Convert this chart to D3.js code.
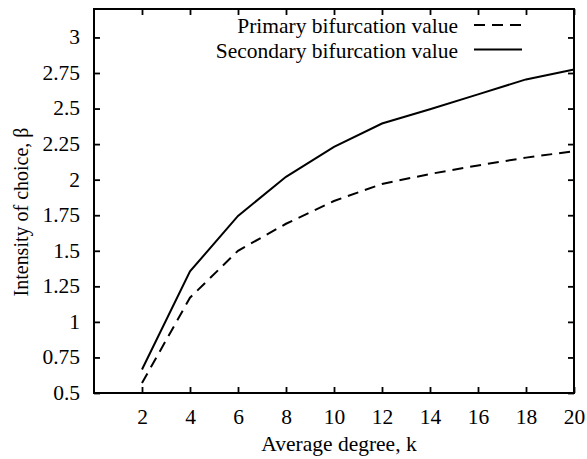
<!DOCTYPE html>
<html>
<head>
<meta charset="utf-8">
<script src="https://cdn.jsdelivr.net/npm/d3@7"></script>
<style>
  html, body { margin: 0; padding: 0; background: #fff; }
  svg { display: block; }
  text { font-family: "Liberation Serif", "Times New Roman", serif; fill: #000; }
</style>
</head>
<body>
<svg id="chart" width="587" height="459"></svg>
<script>
// Average degree k
const degrees = [2, 4, 6, 8, 10, 12, 14, 16, 18, 20];
// Primary bifurcation value of beta for each k
const primaryBeta = [0.57, 1.17, 1.50, 1.69, 1.85, 1.97, 2.04, 2.10, 2.155, 2.20];
// Secondary bifurcation value of beta for each k
const secondaryBeta = [0.665, 1.355, 1.745, 2.02, 2.23, 2.395, 2.495, 2.60, 2.705, 2.775];
const xTicks = [2, 4, 6, 8, 10, 12, 14, 16, 18, 20];
const yTicks = [0.5, 0.75, 1, 1.25, 1.5, 1.75, 2, 2.25, 2.5, 2.75, 3];
const yTickLabels = ["0.5", "0.75", "1", "1.25", "1.5", "1.75", "2", "2.25", "2.5", "2.75", "3"];
const seriesNames = ["Primary bifurcation value", "Secondary bifurcation value"];

const svg = d3.select("#chart");
const plotL = 94, plotR = 574, plotT = 9, plotB = 393;
const x = d3.scaleLinear().domain([0, 20]).range([plotL, plotR]);
const y = d3.scaleLinear().domain([0.5, 3.2]).range([plotB, plotT]);
const fs = 20;
const stretch = 1.075;   // slightly wide glyphs
const tickLen = 6;

// Inward ticks on all four sides
const g = svg.append("g");
const axB = d3.axisBottom(x).tickValues(xTicks).tickSize(-tickLen).tickPadding(17).tickFormat(d3.format("d"));
const axT = d3.axisTop(x).tickValues(xTicks).tickSize(-tickLen).tickFormat("");
const axL = d3.axisLeft(y).tickValues(yTicks).tickSize(-tickLen).tickPadding(13)
  .tickFormat((d, i) => yTickLabels[i]);
const axR = d3.axisRight(y).tickValues(yTicks).tickSize(-tickLen).tickFormat("");

g.append("g").attr("transform", `translate(0,${plotB})`).call(axB);
g.append("g").attr("transform", `translate(0,${plotT})`).call(axT);
g.append("g").attr("transform", `translate(${plotL},0)`).call(axL);
g.append("g").attr("transform", `translate(${plotR},0)`).call(axR);
g.selectAll(".domain").remove();
g.attr("font-family", null);
g.selectAll("g").attr("font-family", null).attr("font-size", null);
g.selectAll(".tick line").attr("stroke", "#000").attr("stroke-width", 1.8);
g.selectAll(".tick text")
  .style("font-family", "'Liberation Serif', 'Times New Roman', serif")
  .style("font-size", fs + "px").attr("fill", "#000")
  .attr("transform", `scale(${stretch},1)`);

// Frame
svg.append("rect").attr("x", plotL).attr("y", plotT)
  .attr("width", plotR - plotL).attr("height", plotB - plotT)
  .attr("fill", "none").attr("stroke", "#000").attr("stroke-width", 2);

const line = d3.line().x(d => x(d[0])).y(d => y(d[1]));
const dashes = "11,7";

svg.append("path").datum(degrees.map((k, i) => [k, primaryBeta[i]]))
  .attr("d", line).attr("fill", "none").attr("stroke", "#000")
  .attr("stroke-width", 2).attr("stroke-dasharray", dashes);
svg.append("path").datum(degrees.map((k, i) => [k, secondaryBeta[i]]))
  .attr("d", line).attr("fill", "none").attr("stroke", "#000")
  .attr("stroke-width", 2);

// Legend
const legend = svg.append("g");
[0, 1].forEach(i => {
  const ly = 25 + i * 24.5;
  legend.append("text")
    .attr("transform", `translate(458,${ly + 8}) scale(${stretch},1)`)
    .attr("text-anchor", "end").style("font-size", fs + "px").text(seriesNames[i]);
  legend.append("line").attr("x1", 474).attr("x2", 522).attr("y1", ly).attr("y2", ly)
    .attr("stroke", "#000").attr("stroke-width", 2)
    .attr("stroke-dasharray", i === 0 ? dashes : null);
});

// Axis titles
svg.append("text")
  .attr("transform", `translate(${x(10) + 5},451) scale(${stretch},1)`)
  .attr("text-anchor", "middle").style("font-size", fs + "px").text("Average degree, k");
svg.append("text")
  .attr("transform", `translate(20,212) scale(${stretch},1) rotate(-90)`)
  .attr("dy", "0.35em").attr("text-anchor", "middle").style("font-size", fs + "px")
  .text("Intensity of choice, β");
</script>
</body>
</html>
